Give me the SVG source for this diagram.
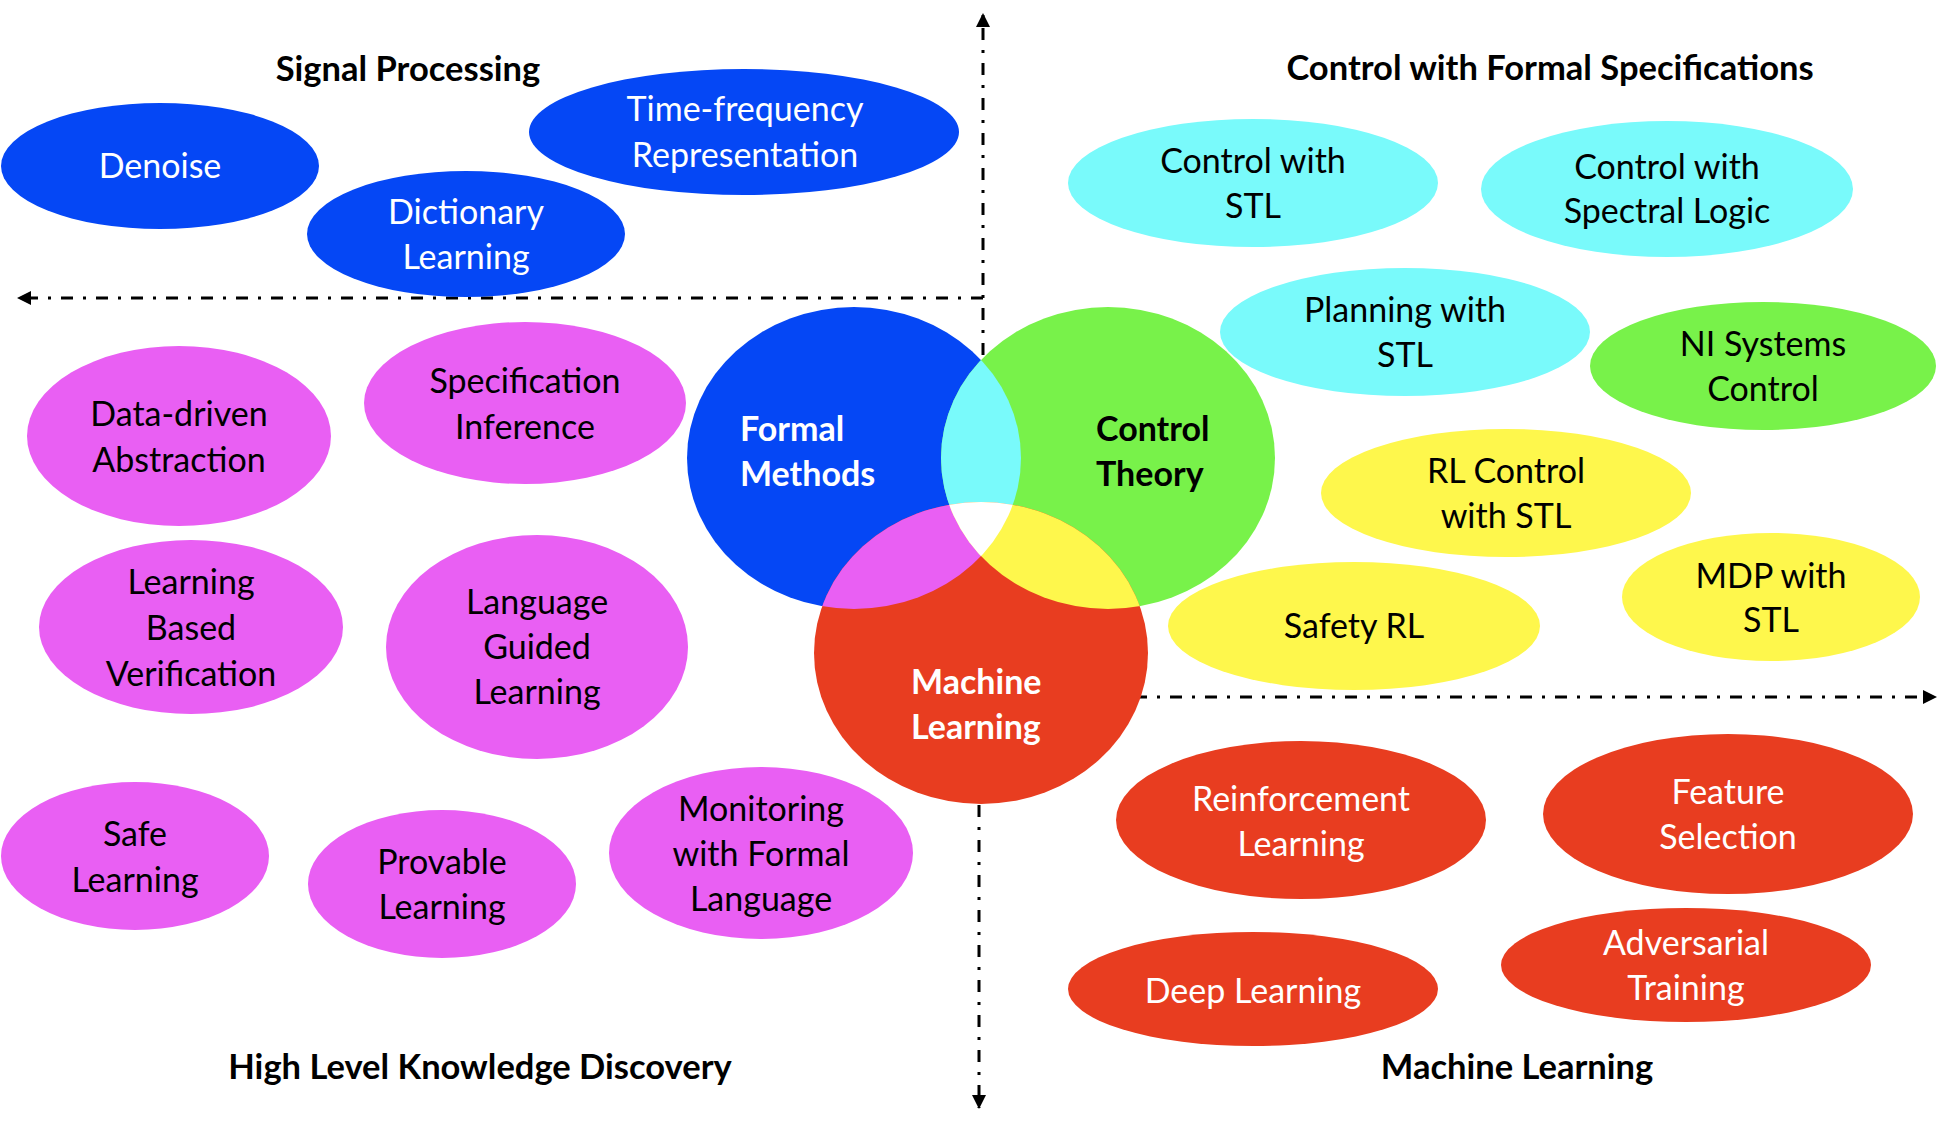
<svg xmlns="http://www.w3.org/2000/svg" width="1949" height="1122" viewBox="0 0 1949 1122">
<style>
text{font-family:Lato,"Open Sans","Liberation Sans",sans-serif;font-size:34px;text-anchor:middle}
.w{fill:#ffffff}
.k{fill:#000000}
.b{font-weight:bold}
.l{text-anchor:start}
.ttl{font-size:34.5px}
.blue{fill:#0547F5}
.cyan{fill:#79FAFB}
.green{fill:#78F24A}
.yellow{fill:#FEF74C}
.mag{fill:#E95FF3}
.red{fill:#E83D20}
.axis{stroke:#000;stroke-width:3;fill:none;stroke-dasharray:12 10 3 10}
</style>
<defs>
<marker id="ah" markerUnits="userSpaceOnUse" markerWidth="14" markerHeight="14" viewBox="0 0 14 14" refX="13" refY="7" orient="auto">
<path d="M0,0 L14,7 L0,14 Z" fill="#000"/>
</marker>
<clipPath id="cBlue"><ellipse cx="854" cy="458" rx="167" ry="151"/></clipPath>
<clipPath id="cGreen"><ellipse cx="1108" cy="458" rx="167" ry="151"/></clipPath>
</defs>
<rect width="1949" height="1122" fill="#fff"/>

<g id="connectors">
<line class="axis" x1="983" y1="460" x2="983" y2="14" marker-end="url(#ah)"/>
<line class="axis" x1="983" y1="298" x2="18" y2="298" marker-end="url(#ah)"/>
<line class="axis" x1="1100" y1="697" x2="1936" y2="697" marker-end="url(#ah)"/>
<line class="axis" x1="979" y1="700" x2="979" y2="1108" marker-end="url(#ah)"/>
</g>

<g id="venn">
<ellipse class="blue" cx="854" cy="458" rx="167" ry="151"/>
<ellipse class="green" cx="1108" cy="458" rx="167" ry="151"/>
<ellipse class="red" cx="981" cy="653" rx="167" ry="151"/>
<ellipse class="cyan" cx="1108" cy="458" rx="167" ry="151" clip-path="url(#cBlue)"/>
<ellipse class="mag" cx="981" cy="653" rx="167" ry="151" clip-path="url(#cBlue)"/>
<ellipse class="yellow" cx="981" cy="653" rx="167" ry="151" clip-path="url(#cGreen)"/>
<g clip-path="url(#cBlue)"><ellipse fill="#fff" cx="981" cy="653" rx="167" ry="151" clip-path="url(#cGreen)"/></g>
</g>
<g id="formal-methods">
<text class="w b l" x="740" y="441">Formal</text>
<text class="w b l" x="740" y="486">Methods</text>
</g>
<g id="control-theory">
<text class="k b l" x="1096" y="441">Control</text>
<text class="k b l" x="1096" y="486">Theory</text>
</g>
<g id="machine-learning-core">
<text class="w b l" x="911" y="694">Machine</text>
<text class="w b l" x="911" y="739">Learning</text>
</g>

<g id="titles">
<text class="k b ttl" x="408" y="81">Signal Processing</text>
<text class="k b ttl" x="1550" y="80">Control with Formal Specifications</text>
<text class="k b ttl" x="480" y="1079">High Level Knowledge Discovery</text>
<text class="k b ttl" x="1517" y="1079">Machine Learning</text>
</g>

<g id="denoise"><ellipse class="blue" cx="160" cy="166" rx="159" ry="63"/><text class="w" x="160" y="178">Denoise</text></g>
<g id="dictionary-learning"><ellipse class="blue" cx="466" cy="234" rx="159" ry="63"/><text class="w" x="466" y="224">Dictionary</text><text class="w" x="466" y="269">Learning</text></g>
<g id="time-frequency"><ellipse class="blue" cx="744" cy="132" rx="215" ry="63"/><text class="w" x="745" y="121">Time-frequency</text><text class="w" x="745" y="167">Representation</text></g>

<g id="control-stl"><ellipse class="cyan" cx="1253" cy="183" rx="185" ry="64"/><text class="k" x="1253" y="173">Control with</text><text class="k" x="1253" y="218">STL</text></g>
<g id="control-spectral"><ellipse class="cyan" cx="1667" cy="189" rx="186" ry="68"/><text class="k" x="1667" y="179">Control with</text><text class="k" x="1667" y="223">Spectral Logic</text></g>
<g id="planning-stl"><ellipse class="cyan" cx="1405" cy="332" rx="185" ry="64"/><text class="k" x="1405" y="322">Planning with</text><text class="k" x="1405" y="367">STL</text></g>
<g id="ni-systems"><ellipse class="green" cx="1763" cy="366" rx="173" ry="64"/><text class="k" x="1763" y="356">NI Systems</text><text class="k" x="1763" y="401">Control</text></g>
<g id="rl-control-stl"><ellipse class="yellow" cx="1506" cy="493" rx="185" ry="64"/><text class="k" x="1506" y="483">RL Control</text><text class="k" x="1506" y="528">with STL</text></g>
<g id="safety-rl"><ellipse class="yellow" cx="1354" cy="626" rx="186" ry="64"/><text class="k" x="1354" y="638">Safety RL</text></g>
<g id="mdp-stl"><ellipse class="yellow" cx="1771" cy="597" rx="149" ry="64"/><text class="k" x="1771" y="588">MDP with</text><text class="k" x="1771" y="632">STL</text></g>

<g id="data-driven"><ellipse class="mag" cx="179" cy="436" rx="152" ry="90"/><text class="k" x="179" y="426">Data-driven</text><text class="k" x="179" y="472">Abstraction</text></g>
<g id="spec-inference"><ellipse class="mag" cx="525" cy="403" rx="161" ry="81"/><text class="k" x="525" y="393">Specification</text><text class="k" x="525" y="439">Inference</text></g>
<g id="learning-verification"><ellipse class="mag" cx="191" cy="627" rx="152" ry="87"/><text class="k" x="191" y="594">Learning</text><text class="k" x="191" y="640">Based</text><text class="k" x="191" y="686">Verification</text></g>
<g id="language-guided"><ellipse class="mag" cx="537" cy="647" rx="151" ry="112"/><text class="k" x="537" y="614">Language</text><text class="k" x="537" y="659">Guided</text><text class="k" x="537" y="704">Learning</text></g>
<g id="safe-learning"><ellipse class="mag" cx="135" cy="856" rx="134" ry="74"/><text class="k" x="135" y="846">Safe</text><text class="k" x="135" y="892">Learning</text></g>
<g id="provable-learning"><ellipse class="mag" cx="442" cy="884" rx="134" ry="74"/><text class="k" x="442" y="874">Provable</text><text class="k" x="442" y="919">Learning</text></g>
<g id="monitoring"><ellipse class="mag" cx="761" cy="853" rx="152" ry="86"/><text class="k" x="761" y="821">Monitoring</text><text class="k" x="761" y="866">with Formal</text><text class="k" x="761" y="911">Language</text></g>

<g id="reinforcement-learning"><ellipse class="red" cx="1301" cy="820" rx="185" ry="79"/><text class="w" x="1301" y="811">Reinforcement</text><text class="w" x="1301" y="856">Learning</text></g>
<g id="feature-selection"><ellipse class="red" cx="1728" cy="814" rx="185" ry="80"/><text class="w" x="1728" y="804">Feature</text><text class="w" x="1728" y="849">Selection</text></g>
<g id="deep-learning"><ellipse class="red" cx="1253" cy="989" rx="185" ry="57"/><text class="w" x="1253" y="1003">Deep Learning</text></g>
<g id="adversarial-training"><ellipse class="red" cx="1686" cy="965" rx="185" ry="57"/><text class="w" x="1686" y="955">Adversarial</text><text class="w" x="1686" y="1000">Training</text></g>
</svg>
